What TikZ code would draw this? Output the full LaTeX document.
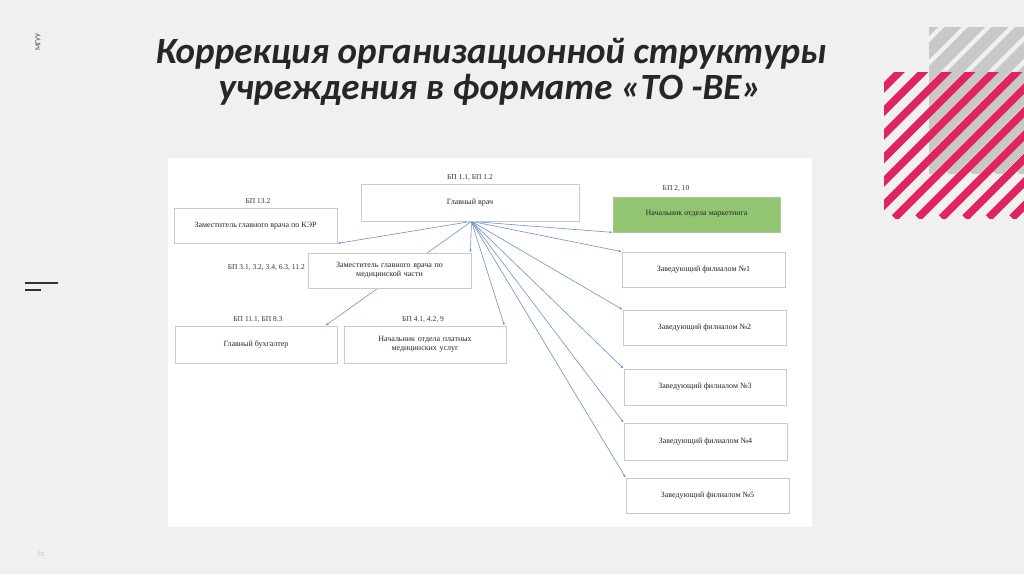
\documentclass[tikz,border=0pt]{standalone}
\usepackage{fontspec}
\setmainfont{Liberation Serif}
\newfontfamily\titlefont{Carlito}
\usetikzlibrary{arrows.meta}
\definecolor{slidebg}{HTML}{F0F0F0}
\definecolor{boxline}{HTML}{C9CCC2}
\definecolor{arrowc}{HTML}{7090C8}
\definecolor{mkgreen}{HTML}{92C572}
\definecolor{stripepink}{HTML}{E0245E}
\definecolor{stripegray}{HTML}{C8C8C8}
\definecolor{titletext}{HTML}{262626}
\pgfdeclarelayer{linklayer}
\pgfsetlayers{linklayer,main}
\tikzset{
  orgbox/.style={draw=boxline, line width=0.8pt, fill=white, align=center, inner sep=1pt, font=\fontsize{8}{9}\selectfont, text=black!85},
  bplabel/.style={inner sep=0pt, font=\fontsize{7.5}{9}\selectfont, text=black!80},
  link/.style={draw=arrowc, line width=0.6pt, -{Latex[length=3pt,width=2.4pt]}},
  titlestyle/.style={inner sep=0pt, font=\titlefont\bfseries\itshape\fontsize{37}{37}\selectfont, text=titletext}
}
\begin{document}
\begin{tikzpicture}[x=1pt,y=-1pt]
\begin{pgfonlayer}{linklayer}
\useasboundingbox (0,0) rectangle (1024,574);
\fill[slidebg] (0,0) rectangle (1024,574);
% decorative stripes
\begin{scope}
  \clip (929,27) rectangle (1024,173);
  \foreach \i in {0,...,14} {
    \draw[stripegray, line width=12pt] (760+\i*23.5,173) -- ++(300,-300);
  }
\end{scope}
\begin{scope}
  \clip (884,72) rectangle (1024,218);
  \foreach \i in {0,...,14} {
    \draw[stripepink, line width=7.5pt] (730+\i*23.5,218) -- ++(300,-300);
  }
\end{scope}
% panel
\fill[white] (168,158) rectangle (812,527);
\end{pgfonlayer}
% side marks
\node[rotate=90, inner sep=0pt, font=\titlefont\fontsize{7.5}{7.5}\selectfont, text=black!70] (mguu) at (38,42) {МГУУ};
\draw[black!80, line width=1.3pt] (25,283) -- (58,283);
\draw[black!80, line width=1.3pt] (25,290) -- (41,290);
\node[inner sep=0pt, font=\titlefont\fontsize{7}{7}\selectfont, text=black!25] (pnum) at (41,554) {31};
% title
\node[titlestyle, anchor=base] (t1) at (491,63) {Коррекция организационной структуры};
\node[titlestyle, anchor=base] (t2) at (490,99) {учреждения в формате «TO -BE»};
% boxes
\node[orgbox, minimum width=218pt, minimum height=37pt] (gv) at (470,202.5) {Главный врач};
\node[orgbox, minimum width=163pt, minimum height=35pt] (ker) at (255.5,225.5) {Заместитель главного врача по КЭР};
\node[orgbox, minimum width=163pt, minimum height=35pt, text width=150pt] (mch) at (389.5,270.5) {Заместитель главного врача по\\медицинской части};
\node[orgbox, minimum width=162pt, minimum height=37pt] (buh) at (256,344.5) {Главный бухгалтер};
\node[orgbox, minimum width=162pt, minimum height=37pt, text width=150pt] (pl) at (425,344.5) {Начальник отдела платных\\медицинских услуг};
\node[orgbox, fill=mkgreen, draw=mkgreen!80!black!60, minimum width=167pt, minimum height=35pt] (mk) at (696.5,214.5) {\raisebox{3pt}{Начальник отдела маркетинга}};
\node[orgbox, minimum width=163pt, minimum height=35pt] (f1) at (703.5,269.5) {Заведующий филиалом №1};
\node[orgbox, minimum width=163pt, minimum height=35pt] (f2) at (704.5,327.5) {Заведующий филиалом №2};
\node[orgbox, minimum width=162pt, minimum height=36pt] (f3) at (705,387) {Заведующий филиалом №3};
\node[orgbox, minimum width=163pt, minimum height=37pt] (f4) at (705.5,441.5) {Заведующий филиалом №4};
\node[orgbox, minimum width=163pt, minimum height=35pt] (f5) at (707.5,495.5) {Заведующий филиалом №5};
% labels
\node[bplabel] (lgv) at (470,178) {БП 1.1, БП 1.2};
\node[bplabel] (lker) at (258,201) {БП 13.2};
\node[bplabel, anchor=east] (lmch) at (305,268) {БП 3.1, 3.2, 3.4, 6.3, 11.2};
\node[bplabel] (lbuh) at (258,320) {БП 11.1, БП 8.3};
\node[bplabel] (lpl) at (423,320) {БП 4.1, 4.2, 9};
\node[bplabel] (lmk) at (676,189) {БП 2, 10};
% connectors (behind boxes)
\begin{pgfonlayer}{linklayer}
\coordinate (src) at ([xshift=1.5pt]gv.south);
\draw[link] (src) -- (ker.south east);
\draw[link] (src) -- ([xshift=-1pt]mch.north east);
\draw[link] (src) -- ([xshift=-12pt]buh.north east);
\draw[link] (src) -- ([xshift=-2pt]pl.north east);
\draw[link] (src) -- (mk.south west);
\draw[link] (src) -- (f1.north west);
\draw[link] (src) -- (f2.north west);
\draw[link] (src) -- (f3.north west);
\draw[link] (src) -- (f4.north west);
\draw[link] (src) -- (f5.north west);
\end{pgfonlayer}
\end{tikzpicture}
\end{document}
